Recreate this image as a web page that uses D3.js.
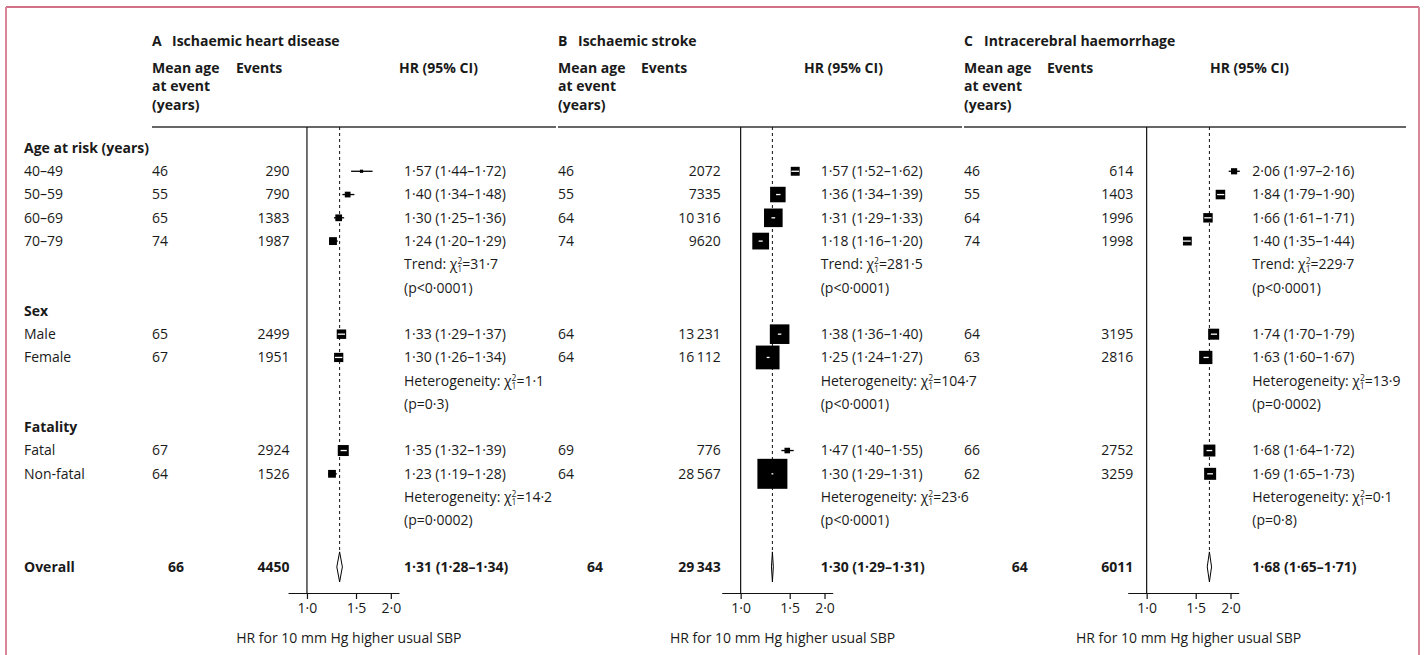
<!DOCTYPE html>
<html>
<head>
<meta charset="utf-8">
<script src="https://cdn.jsdelivr.net/npm/d3@7"></script>
<style>
  body { margin: 0; background: #fff; }
  text { font-family: "Open Sans", "Noto Sans", sans-serif; font-size: 14px; fill: #1a1a1a; }
</style>
</head>
<body>
<div id="chart"></div>
<script>
// chart data
const panelLetters = ["A", "B", "C"];
const panelTitles = ["Ischaemic heart disease", "Ischaemic stroke", "Intracerebral haemorrhage"];
const groupNames = ["Age at risk (years)", "Sex", "Fatality"];
const rowLabels = ["40–49", "50–59", "60–69", "70–79", "Male", "Female", "Fatal", "Non-fatal"];
const rowGroup = [0, 0, 0, 0, 1, 1, 2, 2];
const meanAge = [
    [46, 55, 65, 74, 65, 67, 67, 64],
    [46, 55, 64, 74, 64, 64, 69, 64],
    [46, 55, 64, 74, 64, 63, 66, 62]
];
const events = [
    [290, 790, 1383, 1987, 2499, 1951, 2924, 1526],
    [2072, 7335, 10316, 9620, 13231, 16112, 776, 28567],
    [614, 1403, 1996, 1998, 3195, 2816, 2752, 3259]
];
const hr = [
    [1.57, 1.40, 1.30, 1.24, 1.33, 1.30, 1.35, 1.23],
    [1.57, 1.36, 1.31, 1.18, 1.38, 1.25, 1.47, 1.30],
    [2.06, 1.84, 1.66, 1.40, 1.74, 1.63, 1.68, 1.69]
];
const hrLow = [
    [1.44, 1.34, 1.25, 1.20, 1.29, 1.26, 1.32, 1.19],
    [1.52, 1.34, 1.29, 1.16, 1.36, 1.24, 1.40, 1.29],
    [1.97, 1.79, 1.61, 1.35, 1.70, 1.60, 1.64, 1.65]
];
const hrHigh = [
    [1.72, 1.48, 1.36, 1.29, 1.37, 1.34, 1.39, 1.28],
    [1.62, 1.39, 1.33, 1.20, 1.40, 1.27, 1.55, 1.31],
    [2.16, 1.90, 1.71, 1.44, 1.79, 1.67, 1.72, 1.73]
];
const overallAge = [66, 64, 64];
const overallEvents = [4450, 29343, 6011];
const overallHR = [1.31, 1.30, 1.68];
const overallLow = [1.28, 1.29, 1.65];
const overallHigh = [1.34, 1.31, 1.71];
const testNames = ["Trend", "Heterogeneity", "Heterogeneity"];
const testChi = [
    ["31·7", "1·1", "14·2"],
    ["281·5", "104·7", "23·6"],
    ["229·7", "13·9", "0·1"]
];
const testP = [
    ["p<0·0001", "p=0·3", "p=0·0002"],
    ["p<0·0001", "p<0·0001", "p<0·0001"],
    ["p<0·0001", "p=0·0002", "p=0·8"]
];
const tickValues = [1.0, 1.5, 2.0];

function main(){
    let width = 1424;
    let height = 655;

    let svg = d3.select("#chart").append("svg")
        .attr("width", width)
        .attr("height", height);

    // frame (no bottom edge)
    svg.append("line").attr("x1", 6).attr("x2", 1419).attr("y1", 7).attr("y2", 7)
        .attr("stroke", "#c2415f").attr("stroke-width", 1.3);
    svg.append("line").attr("x1", 6).attr("x2", 6).attr("y1", 7).attr("y2", height)
        .attr("stroke", "#d8879b").attr("stroke-width", 2);
    svg.append("line").attr("x1", 1419).attr("x2", 1419).attr("y1", 7).attr("y2", height)
        .attr("stroke", "#d8879b").attr("stroke-width", 2);

    const loc = d3.formatLocale({decimal: "·", thousands: "\u2009", grouping: [3], currency: ["", ""]});
    const fmtHR = loc.format(".2f");
    const fmtN = function(n){ return n >= 10000 ? loc.format(",")(n) : String(n); };
    const ciText = function(h, l, u){ return fmtHR(h) + " (" + fmtHR(l) + "–" + fmtHR(u) + ")"; };

    // slot positions: group header, rows, two lines of test, next group...
    let rowSlot = [], headSlot = [], testSlot = [];
    let s = 0;
    groupNames.forEach(function(g, gi){
        headSlot.push(s); s++;
        rowGroup.forEach(function(rg, ri){ if(rg === gi){ rowSlot[ri] = s; s++; } });
        testSlot.push(s); s += 2;
    });
    let overallSlot = s + 1;

    let y = d3.scaleLinear().domain([0, overallSlot]).range([148, 566.9]);
    let ruleY = 127, axisY = 593;

    // left labels
    let left = svg.append("g");
    groupNames.forEach(function(g, gi){
        left.append("text").attr("x", 24).attr("y", y(headSlot[gi])).attr("dy", "0.35em")
            .attr("font-weight", "bold").text(g);
    });
    rowLabels.forEach(function(r, ri){
        left.append("text").attr("x", 24).attr("y", y(rowSlot[ri])).attr("dy", "0.35em").text(r);
    });
    left.append("text").attr("x", 24).attr("y", y(overallSlot)).attr("dy", "0.35em")
        .attr("font-weight", "bold").text("Overall");

    const layout = [
        {age: 152, ageO: 168, evR: 289.5, evHead: 236, zero: 307, hrX: 404, hrHead: 399, ruleEnd: 556},
        {age: 558, ageO: 587, evR: 720.7, evHead: 641, zero: 740.7, hrX: 820.7, hrHead: 804, ruleEnd: 962},
        {age: 964, ageO: 1011.7, evR: 1133.3, evHead: 1047, zero: 1146.7, hrX: 1252.3, hrHead: 1210, ruleEnd: 1406}
    ];

    let sizeScale = d3.scaleLinear().domain([0, 207]).range([0, 30]).clamp(true);

    panelTitles.forEach(function(title, p){
        let L = layout[p];
        let g = svg.append("g");

        let x = d3.scaleLog().domain([0.855, 2.14]).range([L.zero - 19, L.zero + 92]);

        // headers
        g.append("text").attr("x", L.age).attr("y", 41).attr("dy", "0.35em")
            .attr("font-weight", "bold").attr("font-size", 18).text(panelLetters[p]);
        g.append("text").attr("x", L.age + 20).attr("y", 41).attr("dy", "0.35em")
            .attr("font-weight", "bold").text(title);
        ["Mean age", "at event", "(years)"].forEach(function(t, i){
            g.append("text").attr("x", L.age).attr("y", 68 + i * 18.5).attr("dy", "0.35em")
                .attr("font-weight", "bold").text(t);
        });
        g.append("text").attr("x", L.evHead).attr("y", 68).attr("dy", "0.35em")
            .attr("font-weight", "bold").text("Events");
        g.append("text").attr("x", L.hrHead).attr("y", 68).attr("dy", "0.35em")
            .attr("font-weight", "bold").text("HR (95% CI)");

        g.append("line").attr("x1", L.age).attr("x2", L.ruleEnd).attr("y1", ruleY).attr("y2", ruleY)
            .attr("stroke", "#333").attr("stroke-width", 1.3);

        // reference lines
        g.append("line").attr("x1", x(1)).attr("x2", x(1)).attr("y1", ruleY).attr("y2", axisY)
            .attr("stroke", "#111").attr("stroke-width", 1.2);
        g.append("line").attr("x1", x(overallHR[p])).attr("x2", x(overallHR[p]))
            .attr("y1", ruleY).attr("y2", y(overallSlot) - 15)
            .attr("stroke", "#111").attr("stroke-width", 1).attr("stroke-dasharray", "3,3");

        // rows
        let rows = rowLabels.map(function(r, i){
            return {age: meanAge[p][i], n: events[p][i], hr: hr[p][i], lo: hrLow[p][i], hi: hrHigh[p][i], slot: rowSlot[i]};
        });

        g.selectAll(".age").data(rows).enter().append("text")
            .attr("x", L.age).attr("y", function(d){ return y(d.slot); }).attr("dy", "0.35em")
            .text(function(d){ return d.age; });
        g.selectAll(".ev").data(rows).enter().append("text")
            .attr("x", L.evR).attr("y", function(d){ return y(d.slot); }).attr("dy", "0.35em")
            .attr("text-anchor", "end")
            .text(function(d){ return fmtN(d.n); });
        g.selectAll(".ci").data(rows).enter().append("text")
            .attr("x", L.hrX).attr("y", function(d){ return y(d.slot); }).attr("dy", "0.35em")
            .text(function(d){ return ciText(d.hr, d.lo, d.hi); });

        // markers: box side from precision (1/se), CI drawn white when inside the box
        rows.forEach(function(d){
            let side = sizeScale(3.92 / Math.log(d.hi / d.lo));
            let cx = x(d.hr), cy = y(d.slot);
            let x0 = x(d.lo), x1 = x(d.hi);
            g.append("line").attr("x1", x0).attr("x2", x1).attr("y1", cy).attr("y2", cy)
                .attr("stroke", "#000").attr("stroke-width", 1.3);
            g.append("rect").attr("x", cx - side / 2).attr("y", cy - side / 2)
                .attr("width", side).attr("height", side).attr("fill", "#000");
            if(x1 - x0 < side){
                g.append("line").attr("x1", x0).attr("x2", x1).attr("y1", cy).attr("y2", cy)
                    .attr("stroke", "#fff").attr("stroke-width", 1.3);
            }
        });

        // test lines
        testNames.forEach(function(t, ti){
            let ty = y(testSlot[ti]);
            let txt = g.append("text").attr("x", L.hrX).attr("y", ty).attr("dy", "0.35em");
            txt.append("tspan").text(t + ": χ");
            txt.append("tspan").attr("dy", -5).attr("font-size", 8.5).text("2");
            txt.append("tspan").attr("dx", -4.9).attr("dy", 8).attr("font-size", 8.5).text("1");
            txt.append("tspan").attr("dy", -3).text("=" + testChi[p][ti]);
            g.append("text").attr("x", L.hrX).attr("y", y(testSlot[ti] + 1)).attr("dy", "0.35em")
                .text("(" + testP[p][ti] + ")");
        });

        // overall
        let oy = y(overallSlot);
        g.append("text").attr("x", L.ageO).attr("y", oy).attr("dy", "0.35em")
            .attr("font-weight", "bold").text(overallAge[p]);
        g.append("text").attr("x", L.evR).attr("y", oy).attr("dy", "0.35em").attr("text-anchor", "end")
            .attr("font-weight", "bold").text(fmtN(overallEvents[p]));
        g.append("text").attr("x", L.hrX).attr("y", oy).attr("dy", "0.35em")
            .attr("font-weight", "bold").text(ciText(overallHR[p], overallLow[p], overallHigh[p]));
        let dx = [[x(overallLow[p]), oy], [x(overallHR[p]), oy - 15], [x(overallHigh[p]), oy], [x(overallHR[p]), oy + 15]];
        g.append("path").attr("d", d3.line()(dx) + "Z")
            .attr("fill", "#fff").attr("stroke", "#000").attr("stroke-width", 1);

        // axis
        let axis = d3.axisBottom(x).tickValues(tickValues).tickSize(6).tickSizeOuter(0)
            .tickFormat(function(v){ return loc.format(".1f")(v); });
        let ag = g.append("g").attr("transform", "translate(0," + axisY + ")").call(axis);
        ag.select(".domain").attr("stroke", "#111").attr("stroke-width", 1.2);
        ag.selectAll(".tick line").attr("stroke", "#111").attr("stroke-width", 1.2);
        ag.selectAll(".tick text").attr("font-size", 14).attr("font-family", "Open Sans")
            .attr("fill", "#1a1a1a").attr("y", 10);
        g.append("text").attr("x", (x(1) + x(2)) / 2).attr("y", 638).attr("dy", "0.35em")
            .attr("text-anchor", "middle").text("HR for 10 mm Hg higher usual SBP");
    });
}

main();
</script>
</body>
</html>
